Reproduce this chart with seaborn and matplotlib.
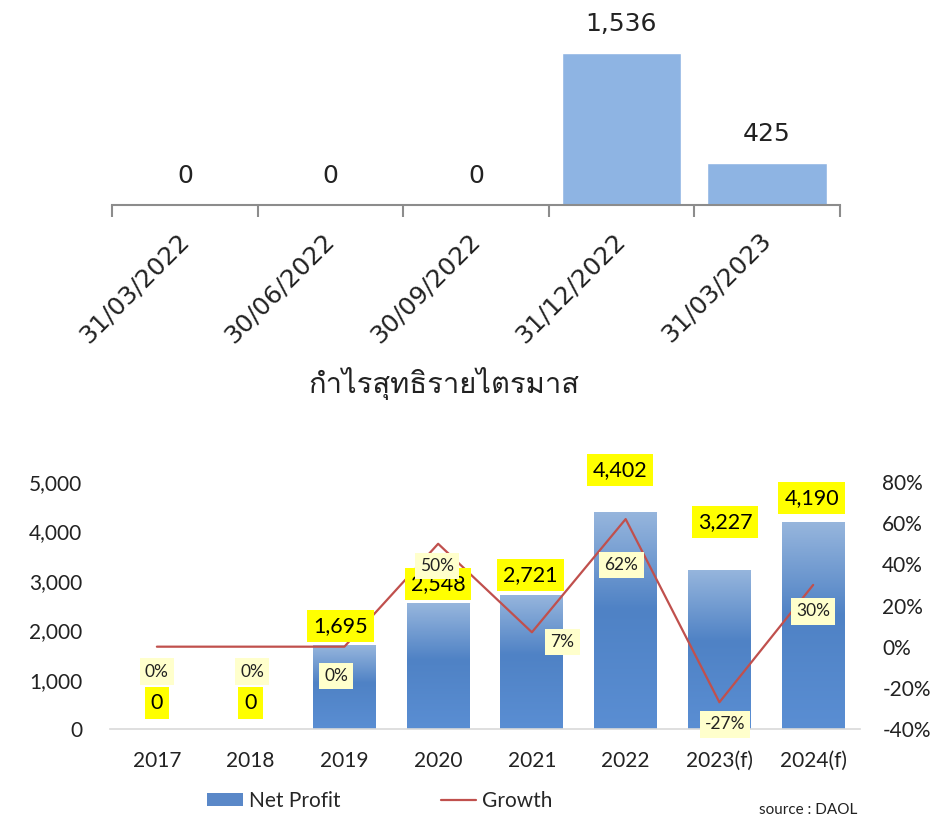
import matplotlib
matplotlib.use('Agg')
import matplotlib.pyplot as plt
import numpy as np
import seaborn as sns
from matplotlib import font_manager
from matplotlib.ft2font import FT2Font
from matplotlib.colors import LinearSegmentedColormap
from matplotlib.lines import Line2D
from matplotlib.patches import Patch
from matplotlib.ticker import PercentFormatter, StrMethodFormatter

# quarterly panel
quarters = ['31/03/2022', '30/06/2022', '30/09/2022', '31/12/2022', '31/03/2023']
quarter_profit = [0, 0, 0, 1536, 425]
quarter_title = 'กำไรสุทธิรายไตรมาส'

# yearly panel
years = ['2017', '2018', '2019', '2020', '2021', '2022', '2023(f)', '2024(f)']
net_profit = [0, 0, 1695, 2548, 2721, 4402, 3227, 4190]
growth = [0, 0, 0, 50, 7, 62, -27, 30]
legend_labels = ['Net Profit', 'Growth']
source_note = 'source : DAOL'

# label nudges in points (dx, dy), placed by hand like in the source sheet
profit_offsets = [(0, 19), (0, 19), (-3, 14), (0, 14), (-1, 14), (-4, 30), (4, 34), (-1, 17)]
growth_offsets = [(0, -18), (1, -18), (-6, -21), (-1, -16), (22, -7), (-3, -33), (4, -16), (0, -19)]

TOP_BLUE = '#8eb4e3'
LINE_RED = '#c0504d'
TEXT = '#222222'


def thai_family():
    # first installed font that actually has Thai glyphs
    for f in font_manager.fontManager.ttflist:
        try:
            if FT2Font(f.fname).get_char_index(ord('ก')):
                return f.name
        except Exception:
            continue
    return 'DejaVu Sans'


def paint_gradient(ax, patches):
    cmap = LinearSegmentedColormap.from_list(
        'bar', [(0, '#5a8ed3'), (0.55, '#4f82c5'), (1, '#97b6dd')])
    ramp = np.linspace(0, 1, 256).reshape(-1, 1)
    for bar in patches:
        x0, y0 = bar.get_x(), bar.get_y()
        w, h = bar.get_width(), bar.get_height()
        if h <= 0:
            continue
        im = ax.imshow(ramp, cmap=cmap, origin='lower', aspect='auto',
                       extent=(x0, x0 + w, y0, y0 + h), zorder=bar.get_zorder() + 0.1)
        im.set_clip_path(bar)


def plot_quarters(fig):
    ax = fig.add_axes([0.118, 0.7491, 0.766, 0.2509])
    sns.barplot(x=quarters, y=quarter_profit, color=TOP_BLUE, saturation=1,
                width=0.82, ax=ax)
    ax.set_ylim(0, 2070)
    ax.set_xlim(-0.5, len(quarters) - 0.5)
    ax.bar_label(ax.containers[0], labels=[f'{v:,}' for v in quarter_profit],
                 padding=12, fontsize=18, color=TEXT, family='DejaVu Sans')

    for side in ['top', 'right', 'left']:
        ax.spines[side].set_visible(False)
    ax.spines['bottom'].set_color('#8c8c8c')
    ax.spines['bottom'].set_linewidth(1.5)
    ax.set_yticks([])
    ax.set_xticks(range(len(quarters)))
    ax.set_xticks(np.arange(-0.5, len(quarters)), minor=True)
    ax.tick_params(axis='x', which='minor', bottom=True, length=8.5, width=1.5,
                   color='#8c8c8c')
    ax.tick_params(axis='x', which='major', bottom=False, length=0, pad=23)
    ax.set_xticklabels(quarters, rotation=45, ha='right', va='center',
                       rotation_mode='anchor', fontsize=18, color=TEXT,
                       family='DejaVu Sans')
    ax.set_xlabel('')
    ax.set_ylabel('')

    fig.text(444 / 950, 1 - 383 / 817, quarter_title, ha='center', va='center',
             fontsize=21, color=TEXT, family=[thai_family(), 'DejaVu Sans'])


def plot_years(fig):
    ax = fig.add_axes([0.1158, 0.1077, 0.7895, 0.3023])
    ax2 = ax.twinx()

    sns.pointplot(x=years, y=growth, ax=ax2, color=LINE_RED, errorbar=None,
                  marker='', linewidth=1.6)
    for line in ax2.lines:
        line.set_marker('')

    sns.barplot(x=years, y=net_profit, color='#5082c5', saturation=1,
                width=0.67, ax=ax)
    paint_gradient(ax, ax.containers[0].patches)

    ax.set_xlim(-0.5, len(years) - 0.5)
    ax.set_ylim(0, 5000)
    ax.set_yticks(range(0, 5001, 1000))
    ax.yaxis.set_major_formatter(StrMethodFormatter('{x:,.0f}'))
    ax.set_xticks(range(len(years)))
    ax.set_xticklabels(years)
    ax2.set_ylim(-40, 80)
    ax2.set_yticks(range(-40, 81, 20))
    ax2.yaxis.set_major_formatter(PercentFormatter(100, decimals=0))

    for a in (ax, ax2):
        for side in ['top', 'right', 'left', 'bottom']:
            a.spines[side].set_visible(False)
        a.set_xlabel('')
        a.set_ylabel('')
    ax.spines['bottom'].set_visible(True)
    ax.spines['bottom'].set_color('#d9d9d9')
    ax.spines['bottom'].set_linewidth(1.2)

    ax.tick_params(axis='x', length=0, pad=16, labelsize=15, labelcolor=TEXT)
    ax.tick_params(axis='y', length=0, pad=20, labelsize=15, labelcolor=TEXT)
    ax2.tick_params(axis='y', length=0, pad=16, labelsize=15, labelcolor=TEXT)

    # yellow value boxes over the bars
    for i, (v, off) in enumerate(zip(net_profit, profit_offsets)):
        ax2.annotate(f'{v:,}', xy=(i, v), xycoords=ax.transData, xytext=off,
                     textcoords='offset points', ha='center', va='center',
                     fontsize=15.5, color='black', zorder=5,
                     bbox=dict(boxstyle='square,pad=0.28', fc='#ffff00', ec='none'))

    # pale growth boxes along the line
    for i, (g, off) in enumerate(zip(growth, growth_offsets)):
        ax2.annotate(f'{g}%', xy=(i, g), xytext=off, textcoords='offset points',
                     ha='center', va='center', fontsize=12.5, color='#222222',
                     zorder=6,
                     bbox=dict(boxstyle='square,pad=0.3', fc='#ffffcc', ec='none'))

    handles = [Patch(facecolor='#5a88c8', edgecolor='none'),
               Line2D([], [], color=LINE_RED, linewidth=1.6)]
    fig.legend(handles, legend_labels, loc='center', ncol=2, frameon=False,
               bbox_to_anchor=(0.40, 1 - 801 / 817), fontsize=15,
               handlelength=1.7, handleheight=0.6, handletextpad=0.3,
               columnspacing=4.8)
    fig.text(857 / 950, 1 - 810 / 817, source_note, ha='right', va='center',
             fontsize=11, color=TEXT)


def main():
    sns.set_style('white')
    plt.rcParams['font.family'] = ['Lato', 'DejaVu Sans']
    plt.rcParams['axes.unicode_minus'] = False

    fig = plt.figure(figsize=(9.5, 8.17), dpi=100)
    plot_quarters(fig)
    plot_years(fig)
    fig.savefig('out.png', dpi=100)
    plt.close(fig)


if __name__ == '__main__':
    main()
